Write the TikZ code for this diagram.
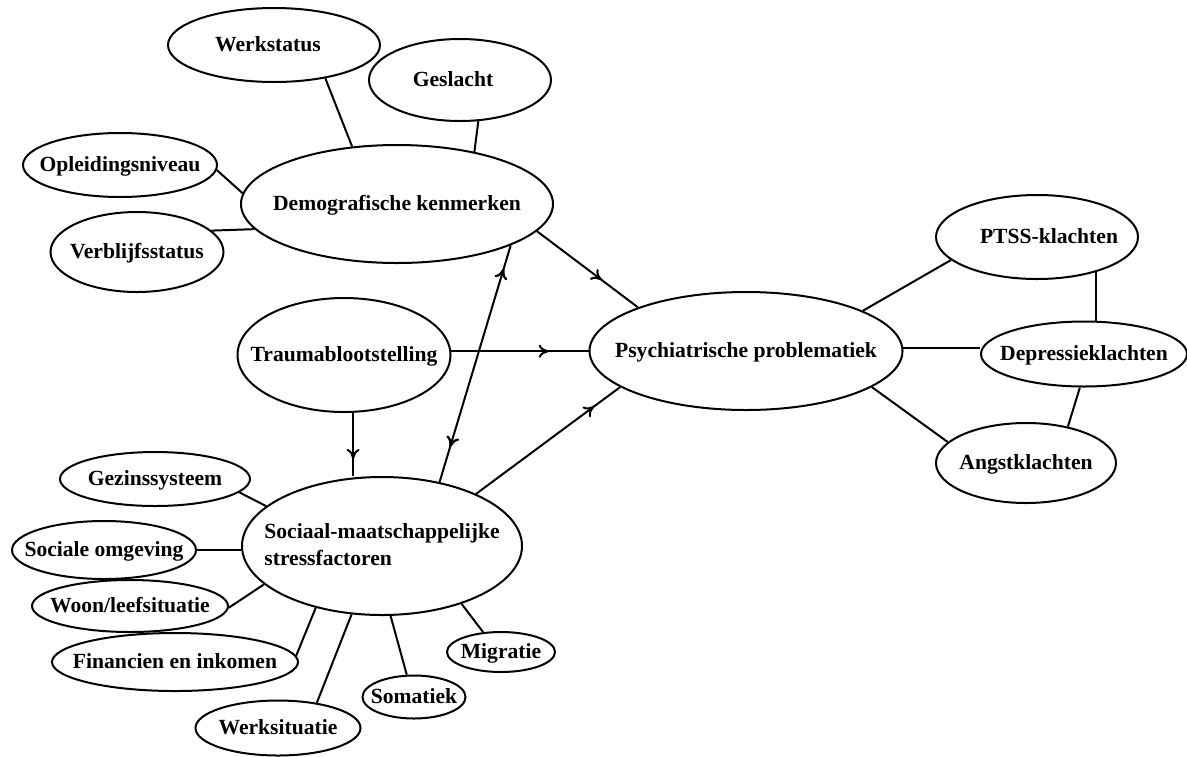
\documentclass[tikz,border=0pt]{standalone}
\usepackage{fontspec}
\setmainfont{Liberation Serif}
\usetikzlibrary{shapes.geometric,arrows.meta,decorations.markings}
\newcommand\lbl[2][c]{\makebox[0pt]{\raisebox{-0.3em}[0pt][0pt]{\begin{tabular}{@{}#1@{}}#2\end{tabular}}}}
\newcommand\lblshift[2]{\makebox[0pt]{\kern#1\lbl{#2}\kern-#1}}
\tikzset{
  ell/.style={ellipse, draw, line width=1pt, inner sep=0pt,
    font=\bfseries\fontsize{10.8}{13.5}\selectfont},
  con/.style={line width=1pt},
  midarrow/.style={postaction={decorate}, decoration={markings,
    mark=at position #1 with {\arrow{To[length=5pt,width=6.5pt,line width=1pt]}}}},
  midarrowrev/.style={postaction={decorate}, decoration={markings,
    mark=at position #1 with {\arrow{To[length=5pt,width=6.5pt,line width=1pt,reversed]}}}}
}
\begin{document}
\begin{tikzpicture}[x=0.5pt,y=-0.5pt]
\useasboundingbox (0,0) rectangle (1187,756);
% nodes
\node[ell, minimum width=156pt, minimum height=59pt] (demo) at (397,204) {\lbl{Demografische kenmerken}};
\node[ell, minimum width=106pt, minimum height=37pt] (werk) at (274,45) {\lblshift{-3pt}{Werkstatus}};
\node[ell, minimum width=91pt, minimum height=41pt] (gesl) at (460,80) {\lblshift{-3.5pt}{Geslacht}};
\node[ell, minimum width=97pt, minimum height=32pt] (opl) at (120,165) {\lbl{Opleidingsniveau}};
\node[ell, minimum width=86.5pt, minimum height=40pt] (verb) at (137,252) {\lbl{Verblijfsstatus}};
\node[ell, minimum width=106.5pt, minimum height=57pt] (trauma) at (344,355) {\lbl{Traumablootstelling}};
\node[ell, minimum width=156.5pt, minimum height=59pt] (psych) at (746,351) {\lbl{Psychiatrische problematiek}};
\node[ell, minimum width=101pt, minimum height=42pt] (ptss) at (1037,237) {\lblshift{6pt}{PTSS-klachten}};
\node[ell, minimum width=103pt, minimum height=32.5pt] (depr) at (1084,354) {\lbl{Depressieklachten}};
\node[ell, minimum width=90pt, minimum height=40pt] (angst) at (1026,463) {\lbl{Angstklachten}};
\node[ell, minimum width=140pt, minimum height=69pt] (soc) at (382,546) {\lbl[l]{Sociaal-maatschappelijke\\stressfactoren}};
\node[ell, minimum width=95pt, minimum height=27pt] (gezin) at (155,479) {\lbl{Gezinssysteem}};
\node[ell, minimum width=92pt, minimum height=29pt] (sociale) at (104,550) {\lbl{Sociale omgeving}};
\node[ell, minimum width=98pt, minimum height=26pt] (woon) at (130,606) {\lbl{Woon/leefsituatie}};
\node[ell, minimum width=123pt, minimum height=29pt] (fin) at (175,662) {\lbl{Financien en inkomen}};
\node[ell, minimum width=82.5pt, minimum height=27.5pt] (werks) at (278,728) {\lbl{Werksituatie}};
\node[ell, minimum width=51.5pt, minimum height=21.5pt] (somat) at (414,697) {\lbl{Somatiek}};
\node[ell, minimum width=54pt, minimum height=20pt] (migr) at (501,652) {\lbl{Migratie}};
% demographic links
\draw[con] (werk.-33) -- (demo.128);
\draw[con] (gesl.-66) -- (demo.34);
\draw[con] (opl.-3) -- (demo.176);
\draw[con] (verb.16) -- (demo.-170);
% arrows to psych
\draw[con, midarrow=0.64] (demo.-11) -- (psych.158);
\draw[con, midarrow=0.71] (trauma.2) -- (trauma.2 -| psych.west);
\draw[con, midarrow=0.82] (soc.29) -- (psych.196);
\draw[con, midarrow=0.73] (trauma.-81) -- (trauma.-81 |- soc.north);
\draw[con, midarrow=0.90, midarrowrev=0.19] (soc.48) -- (demo.-20);
% outcomes
\draw[con] (psych.19.5) -- (ptss.195);
\draw[con] (psych.1) -- (psych.1 -| depr.west);
\draw[con] (psych.-16) -- (angst.165);
\draw[con] (ptss.-31) -- (ptss.-31 |- depr.north);
\draw[con] (depr.-97) -- (angst.41);
% social stressors
\draw[con] (gezin.-9) -- (soc.161);
\draw[con] (sociale.east) -- (sociale.east -| soc.west);
\draw[con] (woon.-1) -- (soc.198);
\draw[con] (fin.3) -- (soc.223);
\draw[con] (werks.33) -- (soc.246);
\draw[con] (somat.108) -- (soc.277);
\draw[con] (migr.132) -- (soc.-36);
\end{tikzpicture}
\end{document}
